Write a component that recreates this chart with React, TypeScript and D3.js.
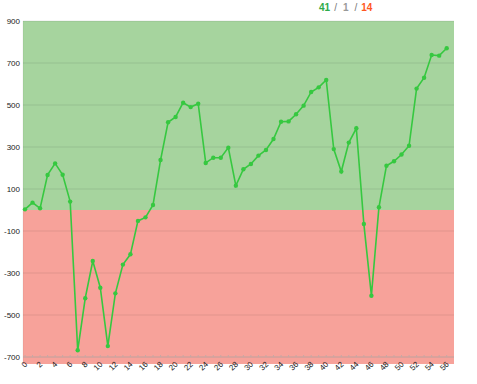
import React from "react";
import * as d3 from "d3";

const values: number[] = [
  3, 35, 8, 167, 222, 168, 40, -668, -420, -243,
  -370, -648, -397, -260, -211, -52, -35, 24, 238, 418,
  443, 511, 490, 506, 224, 249, 249, 297, 116, 194,
  219, 259, 286, 338, 420, 422, 456, 497, 562, 584,
  619, 290, 183, 321, 389, -67, -408, 13, 211, 232,
  264, 306, 578, 630, 738, 735, 770,
];
const yTicks: number[] = [900, 700, 500, 300, 100, -100, -300, -500, -700];
const xTicks: number[] = d3.range(0, 57, 2);

export default function App() {
  const W = 477, H = 384;
  const left = 23, right = 454, top = 21, bottom = 364, axisY = 357;
  const x = d3.scaleLinear().domain([0, values.length - 1]).range([25, 446.7]);
  const y = d3.scaleLinear().domain([900, -700]).range([top, axisY]);
  const line = d3.line<number>().x((_, i) => x(i)).y((d) => y(d));
  let up = 0, flat = 0, down = 0;
  for (let i = 1; i < values.length; i++) {
    if (values[i] > values[i - 1]) up++;
    else if (values[i] < values[i - 1]) down++;
    else flat++;
  }
  const font = "'Liberation Sans', Arial, sans-serif";
  return (
    <svg width={W} height={H} style={{ position: "absolute", left: 0, top: 0 }} fontFamily={font}>
      <rect x={left} y={top} width={right - left} height={y(0) - top} fill="#a6d49e" />
      <rect x={left} y={y(0)} width={right - left} height={bottom - y(0)} fill="#f7a29a" />
      {yTicks.map((t) => (
        <g key={t}>
          <line x1={left} x2={right} y1={y(t)} y2={y(t)} stroke="rgba(0,0,0,0.09)" />
          <text x={20} y={y(t)} dy="0.32em" textAnchor="end" fontSize={8} fill="#222">{t}</text>
        </g>
      ))}
      <line x1={left} x2={left} y1={top} y2={bottom} stroke="rgba(0,0,0,0.06)" />
      <line x1={left} x2={right} y1={axisY} y2={axisY} stroke="#c8a8a4" />
      {d3.range(0, values.length).map((i) => (
        <line key={i} x1={x(i)} x2={x(i)} y1={axisY - 2} y2={axisY} stroke="#c8a8a4" />
      ))}
      {xTicks.map((t) => (
        <text key={t} transform={`translate(${x(t) + 1},${axisY + 6}) rotate(-45)`} textAnchor="end" dy="0.32em" fontSize={8} fill="#222">{t}</text>
      ))}
      <path d={line(values) || ""} fill="none" stroke="#36c840" strokeWidth={1.6} />
      {values.map((v, i) => (
        <circle key={i} cx={x(i)} cy={y(v)} r={2.2} fill="#36c840" />
      ))}
      <text x={319} y={11} fontSize={10} fontWeight="bold" fontFamily={font}>
        <tspan fill="#2eaa4a">{up}</tspan>
        <tspan fill="#777" fontWeight="normal" dx={4}>/</tspan>
        <tspan fill="#999" dx={6}>{flat}</tspan>
        <tspan fill="#777" fontWeight="normal" dx={6}>/</tspan>
        <tspan fill="#ff5722" dx={4}>{down}</tspan>
      </text>
    </svg>
  );
}
